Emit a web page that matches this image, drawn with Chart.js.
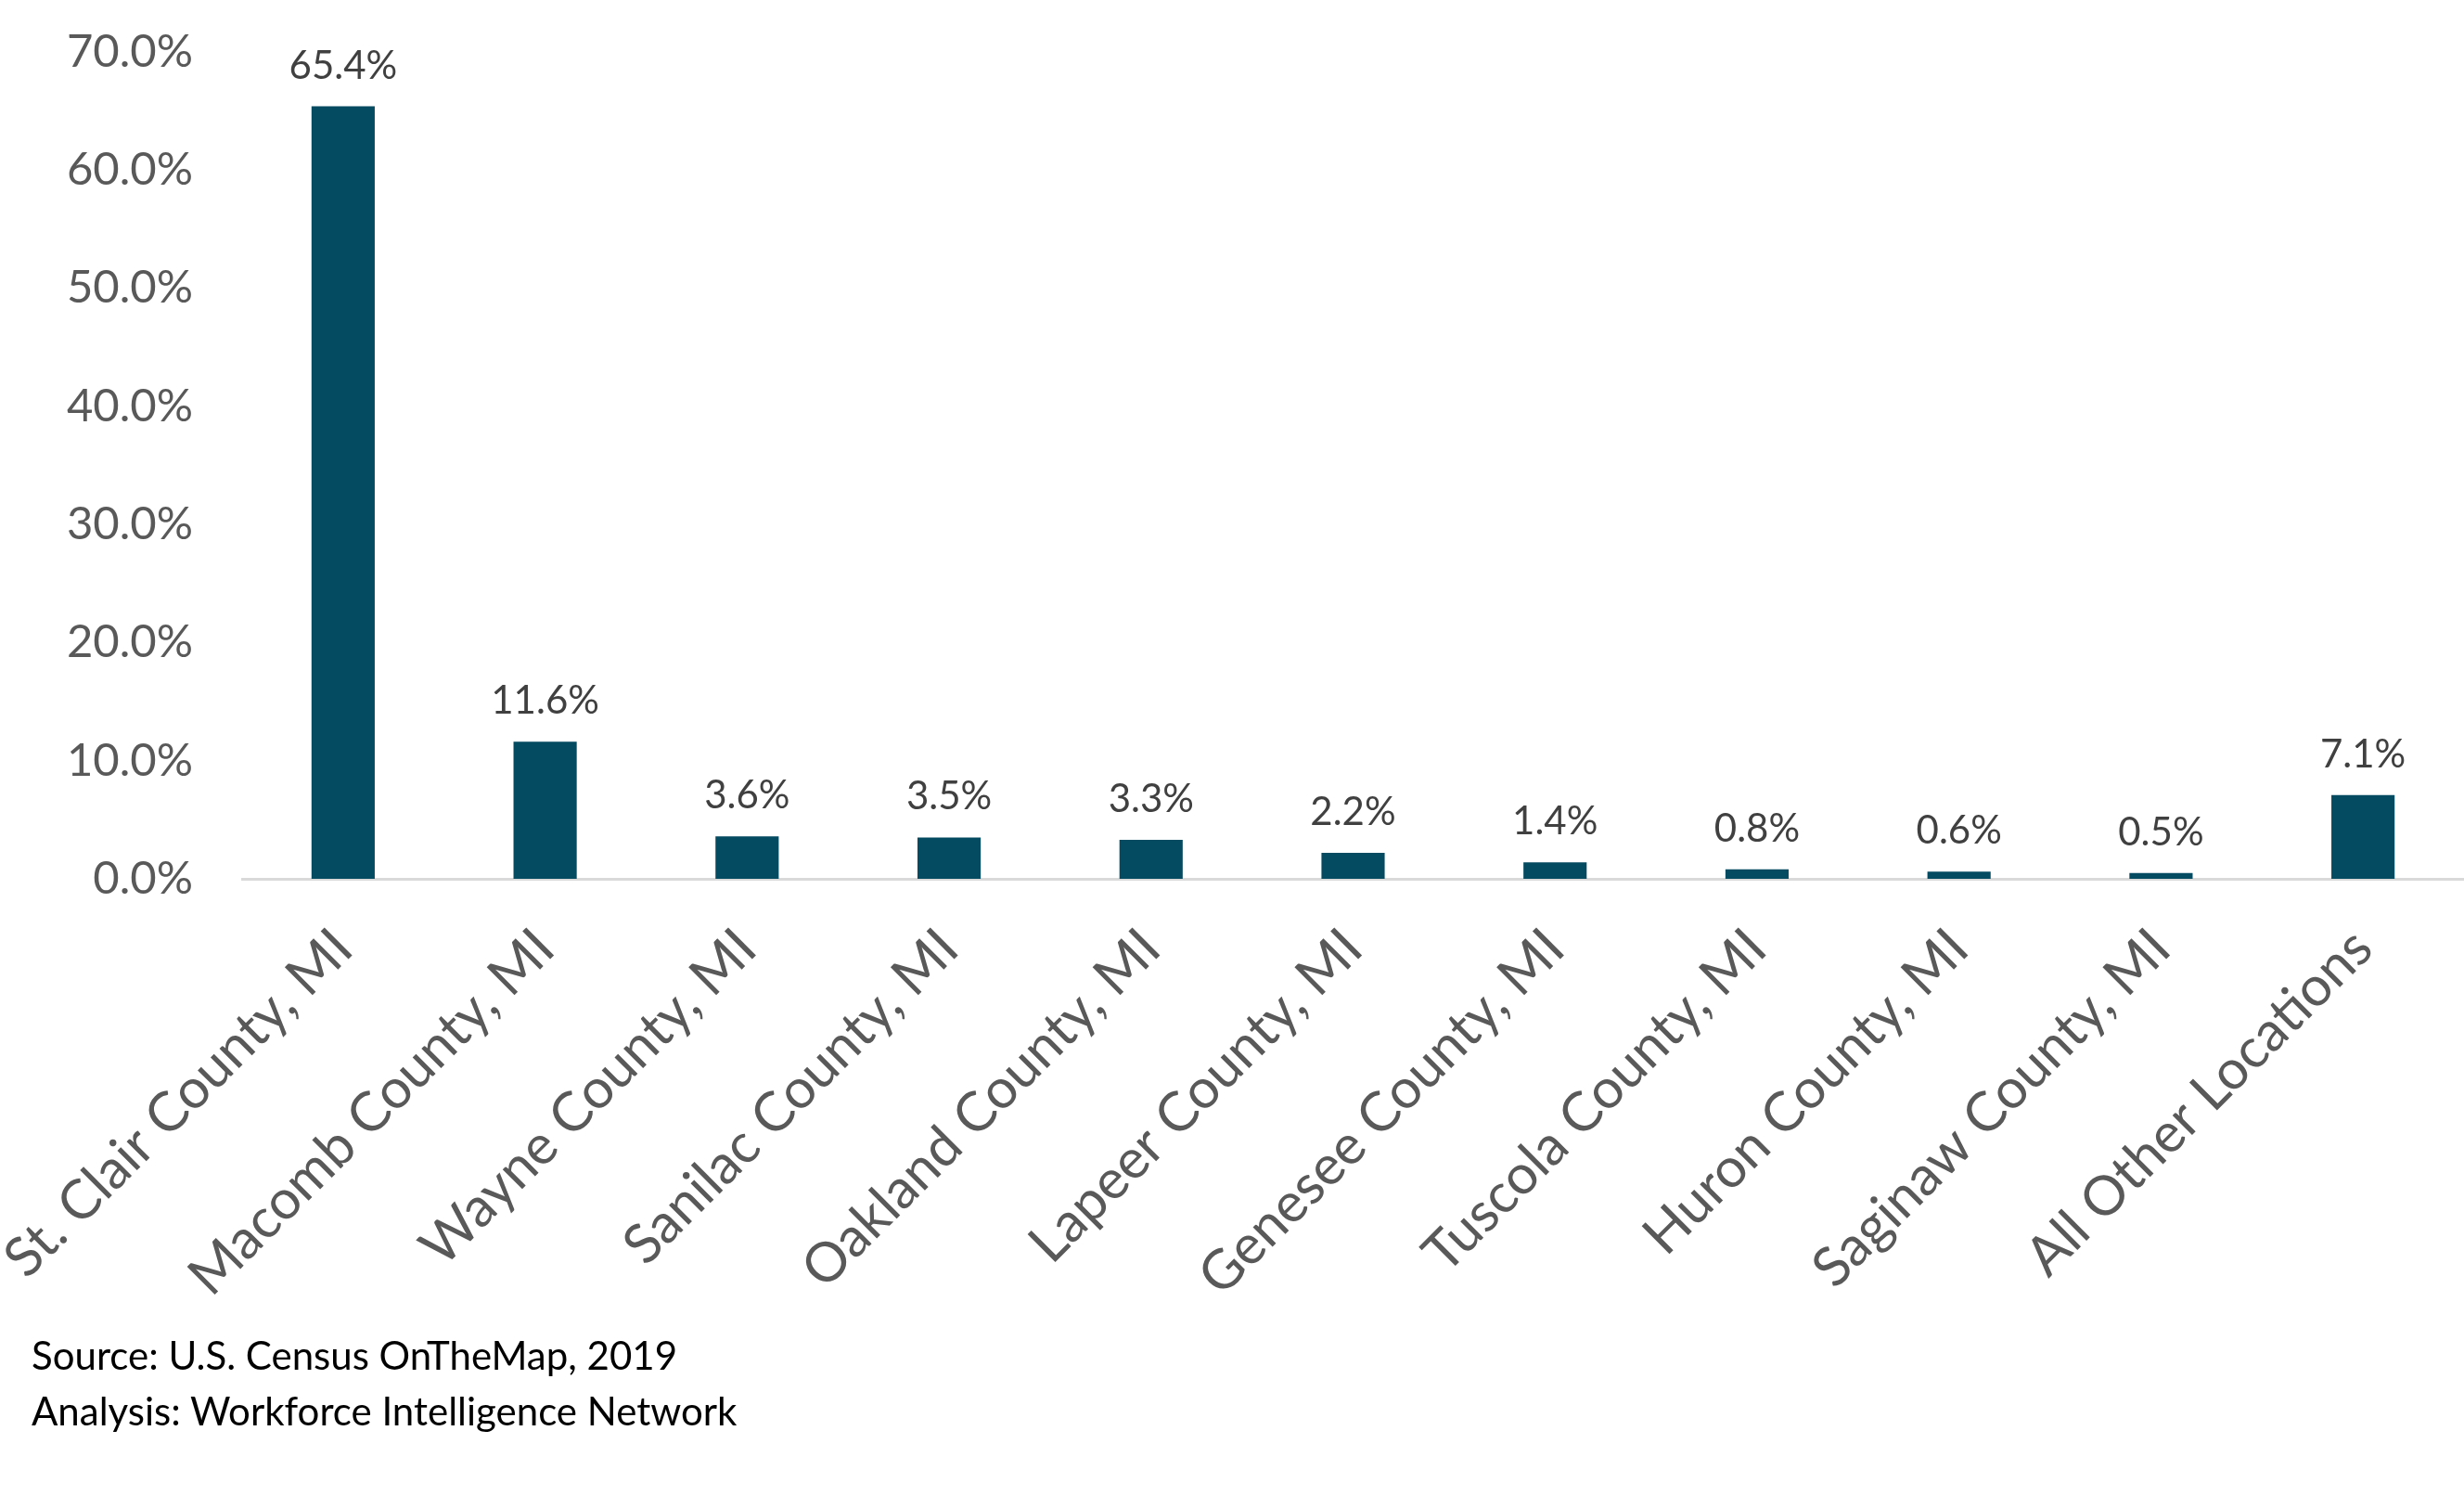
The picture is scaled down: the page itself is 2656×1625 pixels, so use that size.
<!DOCTYPE html>
<html>
<head>
<meta charset="utf-8">
<script src="https://cdn.jsdelivr.net/npm/chart.js@4.4.0/dist/chart.umd.min.js"></script>
<style>
  html, body { margin: 0; padding: 0; background: #fff; }
  #wrap { position: relative; width: 2656px; height: 1625px; }
  #note {
    position: absolute; left: 34px; top: 1430px;
    font-family: Lato, sans-serif; font-size: 42px; line-height: 60px; color: #000;
  }
</style>
</head>
<body>
<div id="wrap">
  <canvas id="commute"></canvas>
  <div id="note">Source: U.S. Census OnTheMap, 2019<br>Analysis: Workforce Intelligence Network</div>
</div>
<script>
var places = ['St. Clair County, MI', 'Macomb County, MI', 'Wayne County, MI', 'Sanilac County, MI',
  'Oakland County, MI', 'Lapeer County, MI', 'Genesee County, MI', 'Tuscola County, MI',
  'Huron County, MI', 'Saginaw County, MI', 'All Other Locations'];
var shares = [65.4, 11.6, 3.6, 3.5, 3.3, 2.2, 1.4, 0.8, 0.6, 0.5, 7.1];
var yTicks = [0, 10, 20, 30, 40, 50, 60, 70];

// value labels above each bar
var valueLabels = {
  id: 'valueLabels',
  afterDatasetsDraw: function (chart) {
    var ctx = chart.ctx;
    var meta = chart.getDatasetMeta(0);
    ctx.save();
    ctx.font = '42px Lato';
    ctx.fillStyle = '#404040';
    ctx.textAlign = 'center';
    ctx.textBaseline = 'alphabetic';
    meta.data.forEach(function (bar, i) {
      ctx.fillText(shares[i].toFixed(1) + '%', bar.x, bar.y - 30);
    });
    ctx.restore();
  }
};

var commuteCanvas = document.getElementById('commute');
var commuteChart = new Chart(commuteCanvas, {
  type: 'bar',
  data: {
    labels: places,
    datasets: [{
      data: shares,
      backgroundColor: '#044A60',
      categoryPercentage: 1,
      barPercentage: 0.313
    }]
  },
  plugins: [valueLabels],
  options: {
    responsive: true,
    maintainAspectRatio: false,
    devicePixelRatio: 1,
    animation: false,
    layout: { padding: { top: 56, left: 0, right: 0, bottom: 0 } },
    plugins: {
      legend: { display: false },
      title: { display: false },
      tooltip: { enabled: false }
    },
    scales: {
      x: {
        grid: { display: false },
        border: { color: '#d9d9d9', width: 3 },
        ticks: {
          autoSkip: false,
          minRotation: 45,
          maxRotation: 45,
          padding: 32,
          color: '#595959',
          font: { family: 'Lato', size: 59 }
        },
        afterFit: function (scale) {
          scale.height = 678;
          scale.paddingLeft = 0;
          scale.paddingRight = 0;
        }
      },
      y: {
        min: 0,
        max: 70,
        grid: { display: false },
        border: { display: false },
        afterBuildTicks: function (scale) {
          scale.ticks = yTicks.map(function (v) { return { value: v }; });
        },
        ticks: {
          padding: 45,
          color: '#595959',
          font: { family: 'Lato', size: 49 },
          callback: function (v) { return v.toFixed(1) + '%'; }
        },
        afterFit: function (scale) {
          scale.width = 261;
          scale.paddingTop = 0;
          scale.paddingBottom = 0;
        }
      }
    }
  }
});
</script>
</body>
</html>
